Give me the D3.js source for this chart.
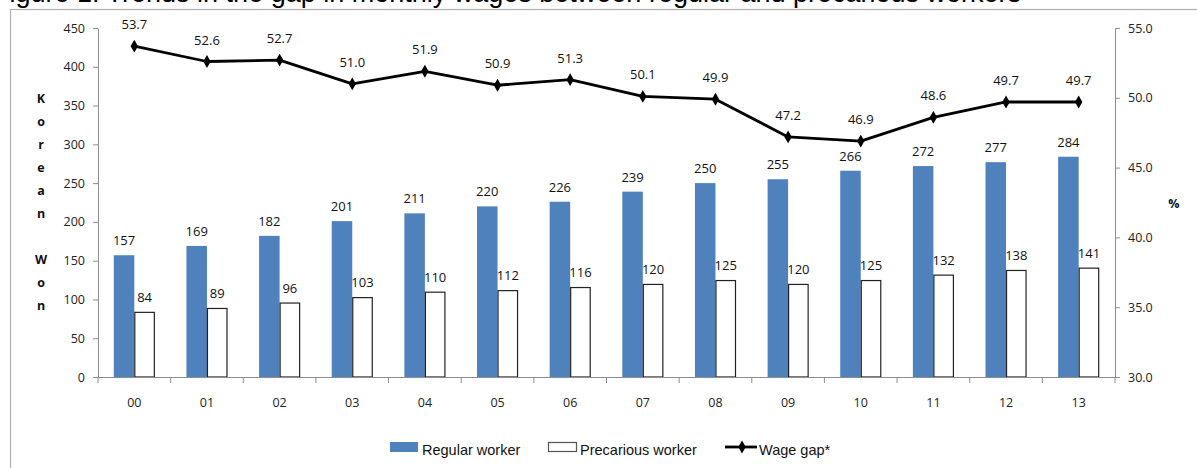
<!DOCTYPE html>
<html>
<head>
<meta charset="utf-8">
<script src="https://cdn.jsdelivr.net/npm/d3@7"></script>
<style>
  html, body { margin: 0; padding: 0; background: #fff; }
  svg { display: block; }
</style>
</head>
<body>
<svg id="chart" width="1197" height="468"></svg>
<script>
// Monthly wages (10,000 Korean won) and wage gap (%) by year
const years = ["00","01","02","03","04","05","06","07","08","09","10","11","12","13"];
const regularWage = [157,169,182,201,211,220,226,239,250,255,266,272,277,284];
const precariousWage = [84,89,96,103,110,112,116,120,125,120,125,132,138,141];
const wageGap = [53.7,52.6,52.7,51.0,51.9,50.9,51.3,50.1,49.9,47.2,46.9,48.6,49.7,49.7];
const leftTicks = [0,50,100,150,200,250,300,350,400,450];
const rightTicks = [30,35,40,45,50,55];
const seriesNames = ["Regular worker","Precarious worker","Wage gap*"];

const svg = d3.select("#chart");
const labelFont = "'Open Sans', 'Liberation Sans', sans-serif";
const legendFont = "'Liberation Sans', Arial, sans-serif";
const blue = "#4F81BD";
const axisGrey = "#8c8c8c";

// Caption line above the frame (runs off the top of the page)
svg.append("text")
  .attr("x", -7).attr("y", 1.5)
  .attr("font-family", legendFont).attr("font-size", 27)
  .attr("fill", "#000")
  .text("Figure 1. Trends in the gap in monthly wages between regular and precarious workers");

// Chart frame
svg.append("rect")
  .attr("x", 10.5).attr("y", 9.5)
  .attr("width", 1400).attr("height", 600)
  .attr("fill", "#fff").attr("stroke", "#b0b0b0").attr("stroke-width", 1.2);

const plot = { left: 98, right: 1115, top: 28, bottom: 377 };

const x0 = d3.scaleBand().domain(years).range([plot.left, plot.right]).padding(0);
const x1 = d3.scaleBand().domain(["regular","precarious"])
  .range([0, x0.bandwidth()]).paddingInner(0).paddingOuter(0.77);
const yL = d3.scaleLinear().domain([0, 450]).range([plot.bottom, plot.top]);
const yR = d3.scaleLinear().domain([30, 55]).range([plot.bottom, plot.top]);

// Left axis
const gL = svg.append("g").attr("transform", `translate(${plot.left},0)`)
  .call(d3.axisLeft(yL).tickValues(leftTicks).tickSize(5).tickSizeOuter(0).tickPadding(8));
// Right axis
const gR = svg.append("g").attr("transform", `translate(${plot.right},0)`)
  .call(d3.axisRight(yR).tickValues(rightTicks).tickFormat(d3.format(".1f"))
    .tickSize(5).tickSizeOuter(0).tickPadding(8));
[gL, gR].forEach(g => {
  g.select(".domain").attr("stroke", axisGrey);
  g.selectAll(".tick line").attr("stroke", axisGrey);
  g.selectAll(".tick text").attr("font-family", labelFont).attr("font-size", 12.5).attr("fill", "#222");
});

// One group of two bars per year
const groups = svg.append("g").selectAll("g").data(years).join("g")
  .attr("transform", d => `translate(${x0(d)},0)`);

groups.append("rect")
  .attr("x", x1("regular")).attr("width", x1.bandwidth())
  .attr("y", (d, i) => yL(regularWage[i]))
  .attr("height", (d, i) => yL(0) - yL(regularWage[i]))
  .attr("fill", blue);

groups.append("rect")
  .attr("x", x1("precarious") + 0.5).attr("width", x1.bandwidth() - 1)
  .attr("y", (d, i) => yL(precariousWage[i]) + 0.5)
  .attr("height", (d, i) => yL(0) - yL(precariousWage[i]) - 0.5)
  .attr("fill", "#fff").attr("stroke", "#222").attr("stroke-width", 1.2);

groups.append("text")
  .attr("x", x1("regular") + x1.bandwidth() / 2)
  .attr("y", (d, i) => yL(regularWage[i]) - 10)
  .attr("text-anchor", "middle")
  .attr("font-family", labelFont).attr("font-size", 13).attr("fill", "#111")
  .text((d, i) => regularWage[i]);

groups.append("text")
  .attr("x", x1("precarious") + x1.bandwidth() / 2)
  .attr("y", (d, i) => yL(precariousWage[i]) - 10)
  .attr("text-anchor", "middle")
  .attr("font-family", labelFont).attr("font-size", 13).attr("fill", "#111")
  .text((d, i) => precariousWage[i]);

// Bottom axis (drawn after bars so the baseline sits on top)
const gB = svg.append("g").attr("transform", `translate(0,${plot.bottom})`)
  .call(d3.axisBottom(x0).tickSize(0).tickPadding(21));
gB.select(".domain").attr("stroke", axisGrey);
gB.selectAll(".tick text").attr("font-family", labelFont).attr("font-size", 12.5).attr("fill", "#222");
// Category separator ticks
const bounds = years.map(d => x0(d)).concat([plot.right]);
gB.selectAll(".sep").data(bounds).join("line")
  .attr("class", "sep")
  .attr("x1", d => d).attr("x2", d => d)
  .attr("y1", 0).attr("y2", 6)
  .attr("stroke", axisGrey);

// Wage gap line
const cx = (d) => x0(d) + x0.bandwidth() / 2;
const line = d3.line().x((d, i) => cx(years[i])).y(d => yR(d));
svg.append("path").datum(wageGap)
  .attr("d", line).attr("fill", "none")
  .attr("stroke", "#000").attr("stroke-width", 2.8).attr("stroke-linejoin", "round");

const diamond = d3.symbol().type(d3.symbolDiamond).size(48);
svg.append("g").selectAll("path").data(wageGap).join("path")
  .attr("d", diamond)
  .attr("transform", (d, i) => `translate(${cx(years[i])},${yR(d)})`)
  .attr("fill", "#000");

svg.append("g").selectAll("text").data(wageGap).join("text")
  .attr("x", (d, i) => cx(years[i]))
  .attr("y", d => yR(d) - 17)
  .attr("text-anchor", "middle")
  .attr("font-family", labelFont).attr("font-size", 13).attr("fill", "#111")
  .text(d => d3.format(".1f")(d));

// Axis titles
const titleLetters = ["K","o","r","e","a","n","","W","o","n"];
svg.append("g").selectAll("text").data(titleLetters).join("text")
  .attr("x", 41).attr("y", (d, i) => 103 + i * 23)
  .attr("text-anchor", "middle")
  .attr("font-family", labelFont).attr("font-size", 12.5).attr("font-weight", "bold").attr("fill", "#111")
  .text(d => d);

svg.append("text")
  .attr("x", 1174).attr("y", 208)
  .attr("text-anchor", "middle")
  .attr("font-family", labelFont).attr("font-size", 12.5).attr("font-weight", "bold").attr("fill", "#111")
  .text("%");

// Legend
const legend = svg.append("g").attr("font-family", legendFont).attr("font-size", 14.5).attr("fill", "#111");
legend.append("rect").attr("x", 390).attr("y", 442).attr("width", 28).attr("height", 10).attr("fill", blue);
legend.append("text").attr("x", 422).attr("y", 455).text(seriesNames[0]);
legend.append("rect").attr("x", 548.5).attr("y", 442.5).attr("width", 28).attr("height", 9)
  .attr("fill", "#fff").attr("stroke", "#555").attr("stroke-width", 1.2);
legend.append("text").attr("x", 580).attr("y", 455).text(seriesNames[1]);
legend.append("line").attr("x1", 725).attr("x2", 757).attr("y1", 447).attr("y2", 447)
  .attr("stroke", "#000").attr("stroke-width", 2.8);
legend.append("path").attr("d", diamond).attr("transform", "translate(742,447)").attr("fill", "#000");
legend.append("text").attr("x", 759).attr("y", 455).text(seriesNames[2]);
</script>
</body>
</html>
